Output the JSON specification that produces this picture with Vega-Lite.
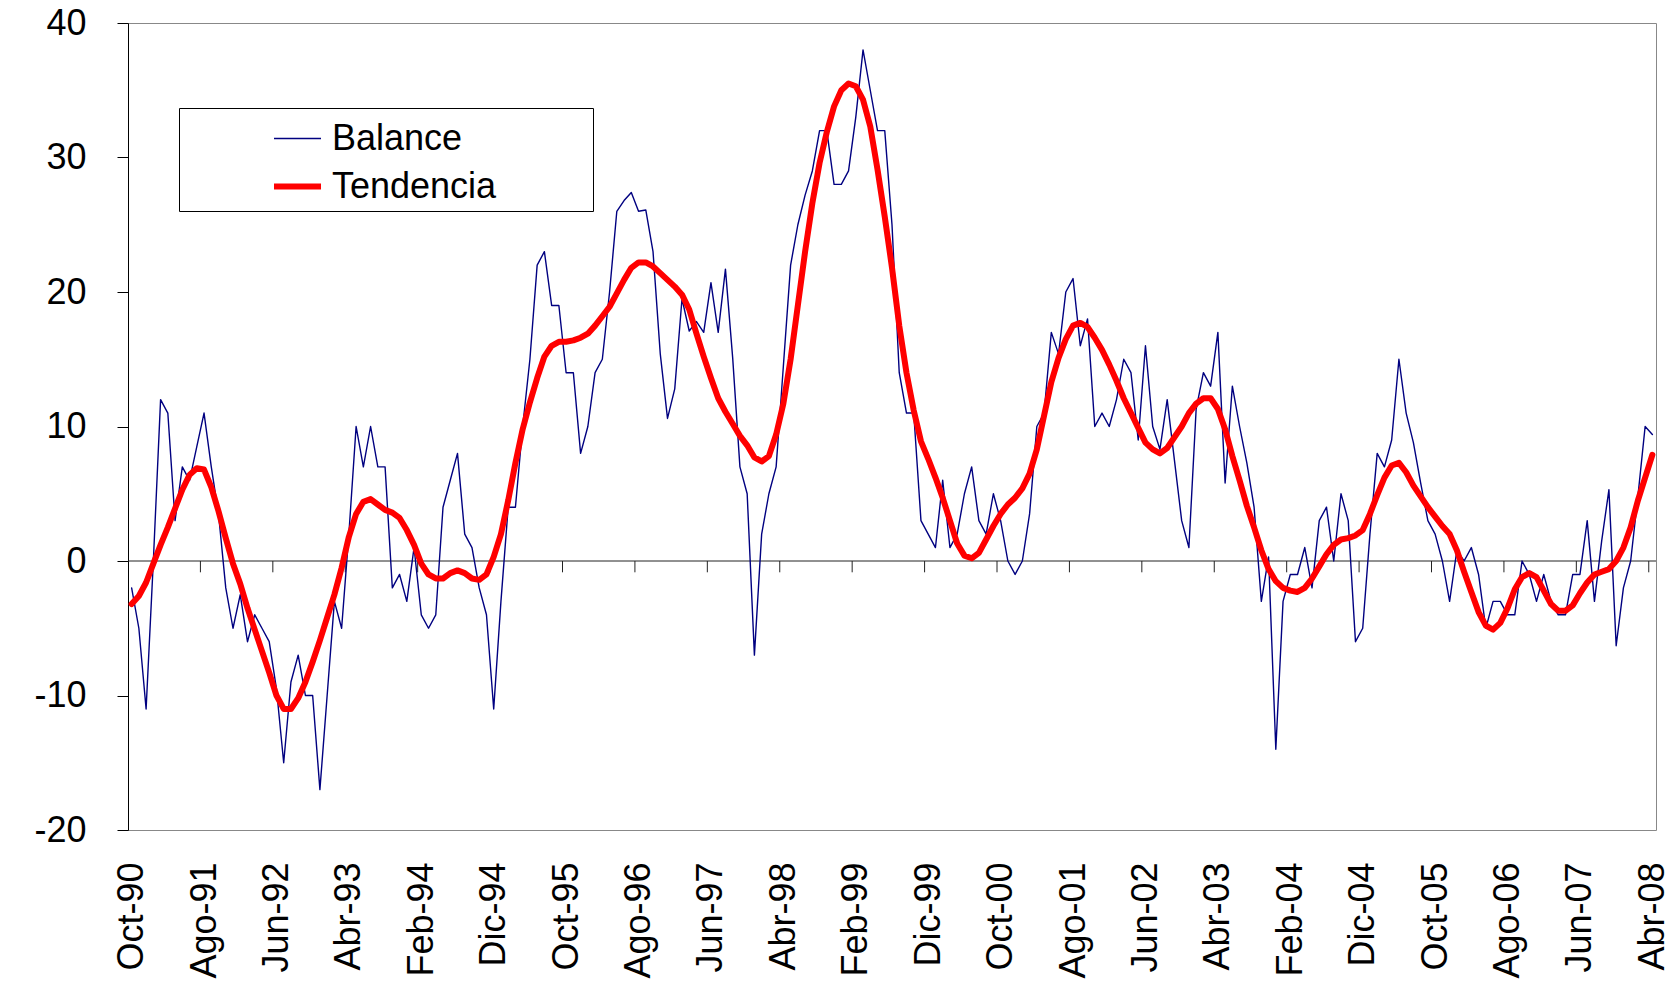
{
  "$schema": "https://vega.github.io/schema/vega-lite/v6.json",
  "width": 1528,
  "height": 807,
  "autosize": {"type": "none"},
  "padding": {"left": 128, "top": 23, "right": 11, "bottom": 175},
  "background": "white",
  "config": {
    "font": "Liberation Sans",
    "view": {"stroke": "#888888", "strokeWidth": 1},
    "axis": {"grid": false, "labelColor": "#000000", "labelFont": "Liberation Sans"}
  },
  "datasets": {
    "marcas": [{"i":9.5},{"i":19.5},{"i":29.5},{"i":39.5},{"i":49.5},{"i":59.5},{"i":69.5},{"i":79.5},{"i":89.5},{"i":99.5},{"i":109.5},{"i":119.5},{"i":129.5},{"i":139.5},{"i":149.5},{"i":159.5},{"i":169.5},{"i":179.5},{"i":189.5},{"i":199.5},{"i":209.5}],
    "serie": [
{"i":0,"Balance":-2,"Tendencia":-3.2},{"i":1,"Balance":-5,"Tendencia":-2.6},{"i":2,"Balance":-11,"Tendencia":-1.6},{"i":3,"Balance":0,"Tendencia":-0.2},{"i":4,"Balance":12,"Tendencia":1.2},{"i":5,"Balance":11,"Tendencia":2.5},{"i":6,"Balance":3,"Tendencia":3.9},{"i":7,"Balance":7,"Tendencia":5.3},{"i":8,"Balance":6,"Tendencia":6.4},{"i":9,"Balance":8.5,"Tendencia":6.9},
{"i":10,"Balance":11,"Tendencia":6.8},{"i":11,"Balance":7,"Tendencia":5.5},{"i":12,"Balance":3.5,"Tendencia":3.7},{"i":13,"Balance":-2,"Tendencia":1.7},{"i":14,"Balance":-5,"Tendencia":-0.2},{"i":15,"Balance":-2.5,"Tendencia":-1.7},{"i":16,"Balance":-6,"Tendencia":-3.5},{"i":17,"Balance":-4,"Tendencia":-5.1},{"i":18,"Balance":-5,"Tendencia":-6.7},{"i":19,"Balance":-6,"Tendencia":-8.3},
{"i":20,"Balance":-9.5,"Tendencia":-10},{"i":21,"Balance":-15,"Tendencia":-11},{"i":22,"Balance":-9,"Tendencia":-11},{"i":23,"Balance":-7,"Tendencia":-10.2},{"i":24,"Balance":-10,"Tendencia":-9},{"i":25,"Balance":-10,"Tendencia":-7.5},{"i":26,"Balance":-17,"Tendencia":-5.9},{"i":27,"Balance":-10,"Tendencia":-4.2},{"i":28,"Balance":-3,"Tendencia":-2.5},{"i":29,"Balance":-5,"Tendencia":-0.5},
{"i":30,"Balance":2,"Tendencia":1.8},{"i":31,"Balance":10,"Tendencia":3.5},{"i":32,"Balance":7,"Tendencia":4.4},{"i":33,"Balance":10,"Tendencia":4.6},{"i":34,"Balance":7,"Tendencia":4.2},{"i":35,"Balance":7,"Tendencia":3.8},{"i":36,"Balance":-2,"Tendencia":3.6},{"i":37,"Balance":-1,"Tendencia":3.2},{"i":38,"Balance":-3,"Tendencia":2.3},{"i":39,"Balance":1,"Tendencia":1.2},
{"i":40,"Balance":-4,"Tendencia":-0.2},{"i":41,"Balance":-5,"Tendencia":-1},{"i":42,"Balance":-4,"Tendencia":-1.3},{"i":43,"Balance":4,"Tendencia":-1.3},{"i":44,"Balance":6,"Tendencia":-0.9},{"i":45,"Balance":8,"Tendencia":-0.7},{"i":46,"Balance":2,"Tendencia":-0.9},{"i":47,"Balance":1,"Tendencia":-1.3},{"i":48,"Balance":-2,"Tendencia":-1.4},{"i":49,"Balance":-4,"Tendencia":-1},
{"i":50,"Balance":-11,"Tendencia":0.3},{"i":51,"Balance":-3,"Tendencia":2},{"i":52,"Balance":4,"Tendencia":4.5},{"i":53,"Balance":4,"Tendencia":7.3},{"i":54,"Balance":10,"Tendencia":9.8},{"i":55,"Balance":15,"Tendencia":11.8},{"i":56,"Balance":22,"Tendencia":13.6},{"i":57,"Balance":23,"Tendencia":15.2},{"i":58,"Balance":19,"Tendencia":16},{"i":59,"Balance":19,"Tendencia":16.3},
{"i":60,"Balance":14,"Tendencia":16.3},{"i":61,"Balance":14,"Tendencia":16.4},{"i":62,"Balance":8,"Tendencia":16.6},{"i":63,"Balance":10,"Tendencia":16.9},{"i":64,"Balance":14,"Tendencia":17.5},{"i":65,"Balance":15,"Tendencia":18.2},{"i":66,"Balance":20,"Tendencia":18.9},{"i":67,"Balance":26,"Tendencia":19.9},{"i":68,"Balance":26.8,"Tendencia":20.9},{"i":69,"Balance":27.4,"Tendencia":21.8},
{"i":70,"Balance":26,"Tendencia":22.2},{"i":71,"Balance":26.1,"Tendencia":22.2},{"i":72,"Balance":23,"Tendencia":21.9},{"i":73,"Balance":15.4,"Tendencia":21.4},{"i":74,"Balance":10.6,"Tendencia":20.9},{"i":75,"Balance":12.8,"Tendencia":20.4},{"i":76,"Balance":19.5,"Tendencia":19.8},{"i":77,"Balance":17.1,"Tendencia":18.7},{"i":78,"Balance":17.8,"Tendencia":16.9},{"i":79,"Balance":17,"Tendencia":15.2},
{"i":80,"Balance":20.7,"Tendencia":13.6},{"i":81,"Balance":17,"Tendencia":12.1},{"i":82,"Balance":21.7,"Tendencia":11.1},{"i":83,"Balance":15.1,"Tendencia":10.2},{"i":84,"Balance":7,"Tendencia":9.3},{"i":85,"Balance":5,"Tendencia":8.6},{"i":86,"Balance":-7,"Tendencia":7.7},{"i":87,"Balance":2,"Tendencia":7.4},{"i":88,"Balance":5,"Tendencia":7.8},{"i":89,"Balance":7,"Tendencia":9.4},
{"i":90,"Balance":14.5,"Tendencia":11.7},{"i":91,"Balance":22,"Tendencia":15},{"i":92,"Balance":25,"Tendencia":19},{"i":93,"Balance":27.2,"Tendencia":23},{"i":94,"Balance":29,"Tendencia":26.6},{"i":95,"Balance":32,"Tendencia":29.6},{"i":96,"Balance":32,"Tendencia":31.9},{"i":97,"Balance":28,"Tendencia":33.8},{"i":98,"Balance":28,"Tendencia":35},{"i":99,"Balance":29,"Tendencia":35.5},
{"i":100,"Balance":33,"Tendencia":35.3},{"i":101,"Balance":38,"Tendencia":34.3},{"i":102,"Balance":35,"Tendencia":32.3},{"i":103,"Balance":32,"Tendencia":29.1},{"i":104,"Balance":32,"Tendencia":25.6},{"i":105,"Balance":25,"Tendencia":21.8},{"i":106,"Balance":14,"Tendencia":17.5},{"i":107,"Balance":11,"Tendencia":14},{"i":108,"Balance":11,"Tendencia":11.2},{"i":109,"Balance":3,"Tendencia":8.9},
{"i":110,"Balance":2,"Tendencia":7.6},{"i":111,"Balance":1,"Tendencia":6.2},{"i":112,"Balance":6,"Tendencia":4.7},{"i":113,"Balance":1,"Tendencia":3},{"i":114,"Balance":2,"Tendencia":1.3},{"i":115,"Balance":5,"Tendencia":0.4},{"i":116,"Balance":7,"Tendencia":0.2},{"i":117,"Balance":3,"Tendencia":0.6},{"i":118,"Balance":2,"Tendencia":1.6},{"i":119,"Balance":5,"Tendencia":2.6},
{"i":120,"Balance":3,"Tendencia":3.5},{"i":121,"Balance":0,"Tendencia":4.2},{"i":122,"Balance":-1,"Tendencia":4.7},{"i":123,"Balance":0,"Tendencia":5.4},{"i":124,"Balance":3.5,"Tendencia":6.5},{"i":125,"Balance":10,"Tendencia":8.3},{"i":126,"Balance":11,"Tendencia":10.8},{"i":127,"Balance":17,"Tendencia":13.3},{"i":128,"Balance":15.4,"Tendencia":15.1},{"i":129,"Balance":20,"Tendencia":16.5},
{"i":130,"Balance":21,"Tendencia":17.5},{"i":131,"Balance":16,"Tendencia":17.7},{"i":132,"Balance":18,"Tendencia":17.4},{"i":133,"Balance":10,"Tendencia":16.6},{"i":134,"Balance":11,"Tendencia":15.7},{"i":135,"Balance":10,"Tendencia":14.6},{"i":136,"Balance":12,"Tendencia":13.4},{"i":137,"Balance":15,"Tendencia":12.1},{"i":138,"Balance":14,"Tendencia":11},{"i":139,"Balance":9,"Tendencia":9.9},
{"i":140,"Balance":16,"Tendencia":8.8},{"i":141,"Balance":10,"Tendencia":8.3},{"i":142,"Balance":8.3,"Tendencia":8},{"i":143,"Balance":12,"Tendencia":8.4},{"i":144,"Balance":7.5,"Tendencia":9.2},{"i":145,"Balance":3,"Tendencia":10},{"i":146,"Balance":1,"Tendencia":11},{"i":147,"Balance":11.3,"Tendencia":11.7},{"i":148,"Balance":14,"Tendencia":12.1},{"i":149,"Balance":13,"Tendencia":12.1},
{"i":150,"Balance":17,"Tendencia":11.3},{"i":151,"Balance":5.8,"Tendencia":9.8},{"i":152,"Balance":13,"Tendencia":7.8},{"i":153,"Balance":10,"Tendencia":6},{"i":154,"Balance":7.3,"Tendencia":4.1},{"i":155,"Balance":4,"Tendencia":2.5},{"i":156,"Balance":-3,"Tendencia":0.8},{"i":157,"Balance":0.3,"Tendencia":-0.6},{"i":158,"Balance":-14,"Tendencia":-1.5},{"i":159,"Balance":-3,"Tendencia":-2},
{"i":160,"Balance":-1,"Tendencia":-2.2},{"i":161,"Balance":-1,"Tendencia":-2.3},{"i":162,"Balance":1,"Tendencia":-2},{"i":163,"Balance":-2,"Tendencia":-1.3},{"i":164,"Balance":3,"Tendencia":-0.4},{"i":165,"Balance":4,"Tendencia":0.5},{"i":166,"Balance":0,"Tendencia":1.2},{"i":167,"Balance":5,"Tendencia":1.6},{"i":168,"Balance":3,"Tendencia":1.7},{"i":169,"Balance":-6,"Tendencia":1.9},
{"i":170,"Balance":-5,"Tendencia":2.3},{"i":171,"Balance":2,"Tendencia":3.5},{"i":172,"Balance":8,"Tendencia":4.9},{"i":173,"Balance":7,"Tendencia":6.2},{"i":174,"Balance":9,"Tendencia":7.1},{"i":175,"Balance":15,"Tendencia":7.3},{"i":176,"Balance":11,"Tendencia":6.6},{"i":177,"Balance":8.8,"Tendencia":5.6},{"i":178,"Balance":5.8,"Tendencia":4.8},{"i":179,"Balance":3,"Tendencia":4},
{"i":180,"Balance":2,"Tendencia":3.3},{"i":181,"Balance":0,"Tendencia":2.6},{"i":182,"Balance":-3,"Tendencia":2},{"i":183,"Balance":0.8,"Tendencia":0.8},{"i":184,"Balance":0,"Tendencia":-0.8},{"i":185,"Balance":1,"Tendencia":-2.3},{"i":186,"Balance":-1,"Tendencia":-3.8},{"i":187,"Balance":-5,"Tendencia":-4.8},{"i":188,"Balance":-3,"Tendencia":-5.1},{"i":189,"Balance":-3,"Tendencia":-4.6},
{"i":190,"Balance":-4,"Tendencia":-3.5},{"i":191,"Balance":-4,"Tendencia":-2.1},{"i":192,"Balance":0,"Tendencia":-1.2},{"i":193,"Balance":-1,"Tendencia":-0.9},{"i":194,"Balance":-3,"Tendencia":-1.2},{"i":195,"Balance":-1,"Tendencia":-2.2},{"i":196,"Balance":-3,"Tendencia":-3.2},{"i":197,"Balance":-4,"Tendencia":-3.7},{"i":198,"Balance":-4,"Tendencia":-3.7},{"i":199,"Balance":-1,"Tendencia":-3.3},
{"i":200,"Balance":-1,"Tendencia":-2.4},{"i":201,"Balance":3,"Tendencia":-1.6},{"i":202,"Balance":-3,"Tendencia":-1},{"i":203,"Balance":1.5,"Tendencia":-0.8},{"i":204,"Balance":5.3,"Tendencia":-0.6},{"i":205,"Balance":-6.3,"Tendencia":0},{"i":206,"Balance":-2,"Tendencia":1},{"i":207,"Balance":0,"Tendencia":2.5},{"i":208,"Balance":4.8,"Tendencia":4.5},{"i":209,"Balance":10,"Tendencia":6.2},
{"i":210,"Balance":9.4,"Tendencia":7.9}
    ]
  },
  "layer": [
    {
      "data": {"values": [{"cero": 0}]},
      "mark": {"type": "rule", "color": "#222222", "strokeWidth": 1},
      "encoding": {
        "y": {"field": "cero", "type": "quantitative", "scale": {"domain": [-20, 40], "nice": false, "zero": false}}
      }
    },
    {
      "data": {"name": "marcas"},
      "mark": {"type": "rule", "color": "#222222", "strokeWidth": 1},
      "encoding": {
        "x": {"field": "i", "type": "quantitative", "scale": {"domain": [-0.5, 210.5], "nice": false, "zero": false}},
        "y": {"datum": 0, "type": "quantitative", "scale": {"domain": [-20, 40], "nice": false, "zero": false}},
        "y2": {"datum": -0.84}
      }
    },
    {
      "data": {"name": "serie"},
      "transform": [{"fold": ["Balance", "Tendencia"], "as": ["serie", "valor"]}],
      "mark": {"type": "line", "strokeCap": "round", "strokeJoin": "round"},
      "encoding": {
        "x": {
          "field": "i", "type": "quantitative",
          "scale": {"domain": [-0.5, 210.5], "nice": false, "zero": false},
          "axis": {
            "title": null,
            "values": [0,10,20,30,40,50,60,70,80,90,100,110,120,130,140,150,160,170,180,190,200,210],
            "labelExpr": "['Oct-90','Ago-91','Jun-92','Abr-93','Feb-94','Dic-94','Oct-95','Ago-96','Jun-97','Abr-98','Feb-99','Dic-99','Oct-00','Ago-01','Jun-02','Abr-03','Feb-04','Dic-04','Oct-05','Ago-06','Jun-07','Abr-08'][round(datum.value/10)]",
            "labelAngle": -90,
            "labelFontSize": 36,
            "labelPadding": 32,
            "labelFlush": false,
            "labelOverlap": false,
            "ticks": false,
            "domain": false
          }
        },
        "y": {
          "field": "valor", "type": "quantitative",
          "scale": {"domain": [-20, 40], "nice": false, "zero": false},
          "axis": {
            "title": null,
            "values": [-20, -10, 0, 10, 20, 30, 40],
            "labelExpr": "'' + datum.value",
            "tickSize": 11,
            "tickColor": "#000000",
            "domainColor": "#000000",
            "labelFontSize": 36,
            "labelPadding": 31
          }
        },
        "color": {
          "field": "serie", "type": "nominal",
          "scale": {"domain": ["Balance", "Tendencia"], "range": ["#000080", "#FF0000"]},
          "legend": {
            "title": null,
            "orient": "none",
            "legendX": 51,
            "legendY": 85,
            "fillColor": "white",
            "strokeColor": "#000000",
            "padding": 6,
            "symbolType": "stroke",
            "symbolSize": 2209,
            "symbolOffset": 86,
            "labelFontSize": 36,
            "labelOffset": 8,
            "labelLimit": 600,
            "rowPadding": 3,
            "labelColor": "#000000",
            "labelExpr": "datum.label + '\u00a0\u00a0\u00a0\u00a0\u00a0\u00a0\u00a0\u00a0\u00a0\u200b'"
          }
        },
        "strokeWidth": {
          "field": "serie", "type": "nominal",
          "scale": {"domain": ["Balance", "Tendencia"], "range": [1.4, 6]},
          "legend": {
            "title": null,
            "orient": "none",
            "legendX": 51,
            "legendY": 85,
            "fillColor": "white",
            "strokeColor": "#000000",
            "padding": 6,
            "symbolType": "stroke",
            "symbolSize": 2209,
            "symbolOffset": 86,
            "labelFontSize": 36,
            "labelOffset": 8,
            "labelLimit": 600,
            "rowPadding": 3,
            "labelColor": "#000000",
            "labelExpr": "datum.label + '\u00a0\u00a0\u00a0\u00a0\u00a0\u00a0\u00a0\u00a0\u00a0\u200b'"
          }
        }
      }
    }
  ]
}
